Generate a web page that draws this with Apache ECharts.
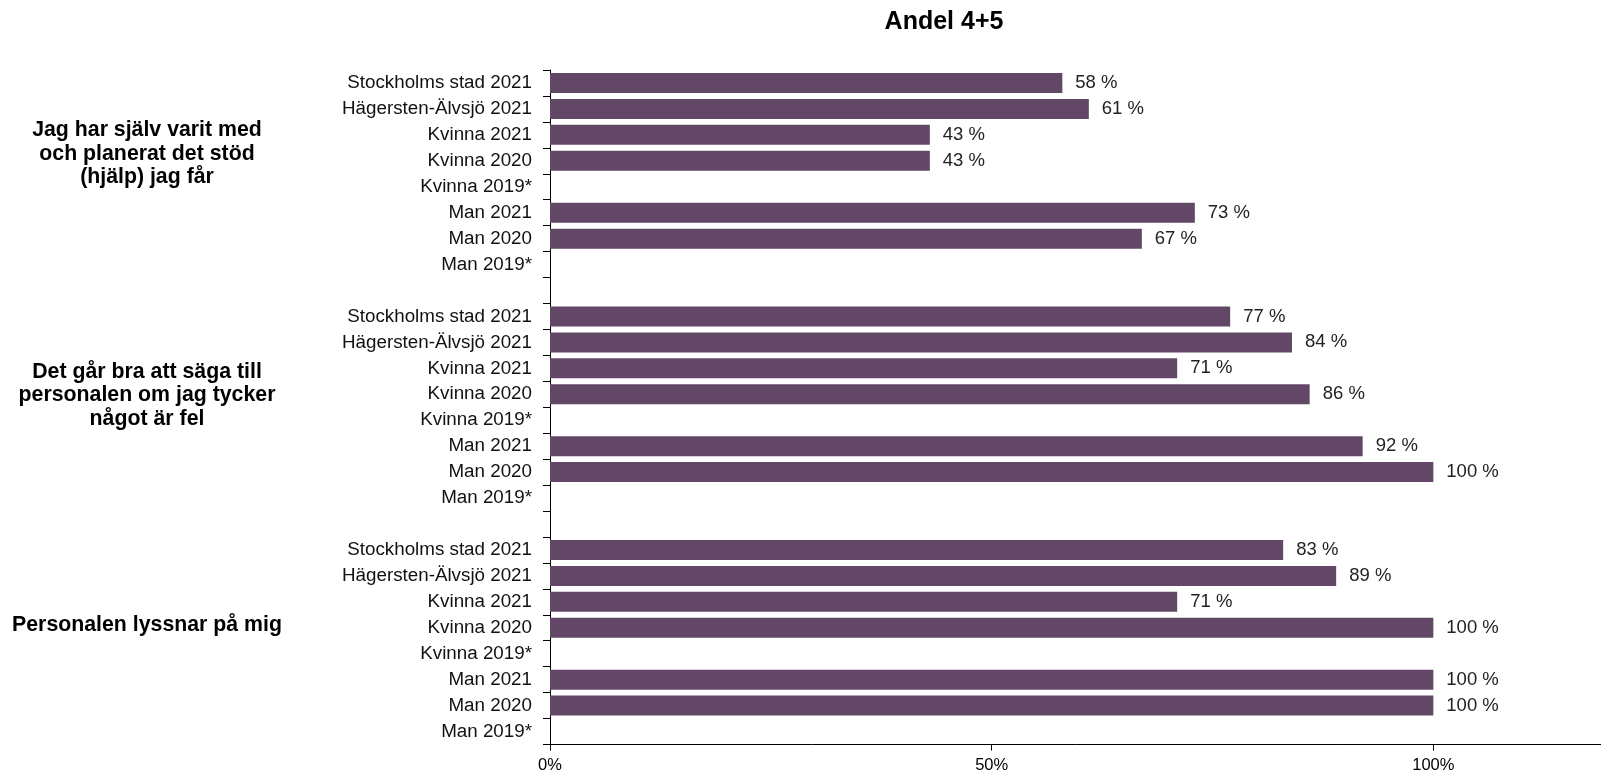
<!DOCTYPE html>
<html>
<head>
<meta charset="utf-8">
<script src="https://cdn.jsdelivr.net/npm/echarts@6/dist/echarts.min.js"></script>
<style>
  html, body { margin: 0; padding: 0; background: #ffffff; }
  #chart { width: 1601px; height: 773px; }
</style>
</head>
<body>
<div id="chart"></div>
<script>
const titleText = 'Andel 4+5';
const categories = ['Stockholms stad 2021', 'Hägersten-Älvsjö 2021', 'Kvinna 2021', 'Kvinna 2020', 'Kvinna 2019*', 'Man 2021', 'Man 2020', 'Man 2019*'];
const questions = [
  'Jag har själv varit med\noch planerat det stöd\n(hjälp) jag får',
  'Det går bra att säga till\npersonalen om jag tycker\nnågot är fel',
  'Personalen lyssnar på mig'
];
const valuesQ1 = [58, 61, 43, 43, null, 73, 67, null];
const valuesQ2 = [77, 84, 71, 86, null, 92, 100, null];
const valuesQ3 = [83, 89, 71, 100, null, 100, 100, null];
const xTickValues = [0, 50, 100];

const FONT = '"Liberation Sans", Arial, Helvetica, sans-serif';
const BAR = '#624766';

// Build category list with a blank spacer row between question groups
const groups = [valuesQ1, valuesQ2, valuesQ3];
const yData = [];
const seriesData = [];
groups.forEach((vals, gi) => {
  categories.forEach((c, i) => { yData.push(c); seriesData.push(vals[i]); });
  if (gi < groups.length - 1) { yData.push(''); seriesData.push(null); }
});

const chart = echarts.init(document.getElementById('chart'), null, { renderer: 'canvas' });

const groupLabelY = [154, 395.5, 625.5];
const option = {
  backgroundColor: '#ffffff',
  animation: false,
  title: {
    text: titleText,
    left: 944,
    top: 10,
    textAlign: 'center',
    padding: 0,
    textStyle: { fontFamily: FONT, fontWeight: 'bold', fontSize: 25, color: '#000000' }
  },
  grid: {
    left: 550,
    top: 70,
    width: 1060,
    height: 674.5,
    containLabel: false,
    outerBoundsMode: 'none'
  },
  xAxis: {
    type: 'value',
    min: 0,
    max: 120,
    interval: 50,
    splitLine: { show: false },
    axisLine: { show: true, lineStyle: { color: '#000000', width: 1 } },
    axisTick: { show: true, length: 6, lineStyle: { color: '#000000' } },
    axisLabel: {
      showMaxLabel: false,
      margin: 12,
      fontFamily: FONT,
      fontSize: 16.5,
      color: '#000000',
      formatter: v => (xTickValues.indexOf(v) >= 0 ? v + '%' : '')
    }
  },
  yAxis: {
    type: 'category',
    inverse: true,
    data: yData,
    axisLine: { show: true, lineStyle: { color: '#000000', width: 1 } },
    axisTick: { show: true, interval: 0, length: 7, lineStyle: { color: '#000000' } },
    axisLabel: {
      interval: 0,
      margin: 18,
      fontFamily: FONT,
      fontSize: 18.8,
      color: '#111111'
    },
    splitLine: { show: false }
  },
  series: [{
    type: 'bar',
    data: seriesData,
    barWidth: 20,
    itemStyle: { color: BAR },
    label: {
      show: true,
      position: 'right',
      distance: 13,
      fontFamily: FONT,
      fontSize: 18.5,
      color: '#222222',
      formatter: p => (p.value == null ? '' : p.value + ' %')
    }
  }],
  graphic: questions.map((q, i) => ({
    type: 'text',
    x: 147,
    y: groupLabelY[i],
    style: {
      text: q,
      fontFamily: FONT,
      fontWeight: 'bold',
      fontSize: 21.3,
      lineHeight: 23.5,
      fill: '#000000',
      textAlign: 'center',
      textVerticalAlign: 'middle'
    }
  }))
};
chart.setOption(option);
</script>
</body>
</html>
